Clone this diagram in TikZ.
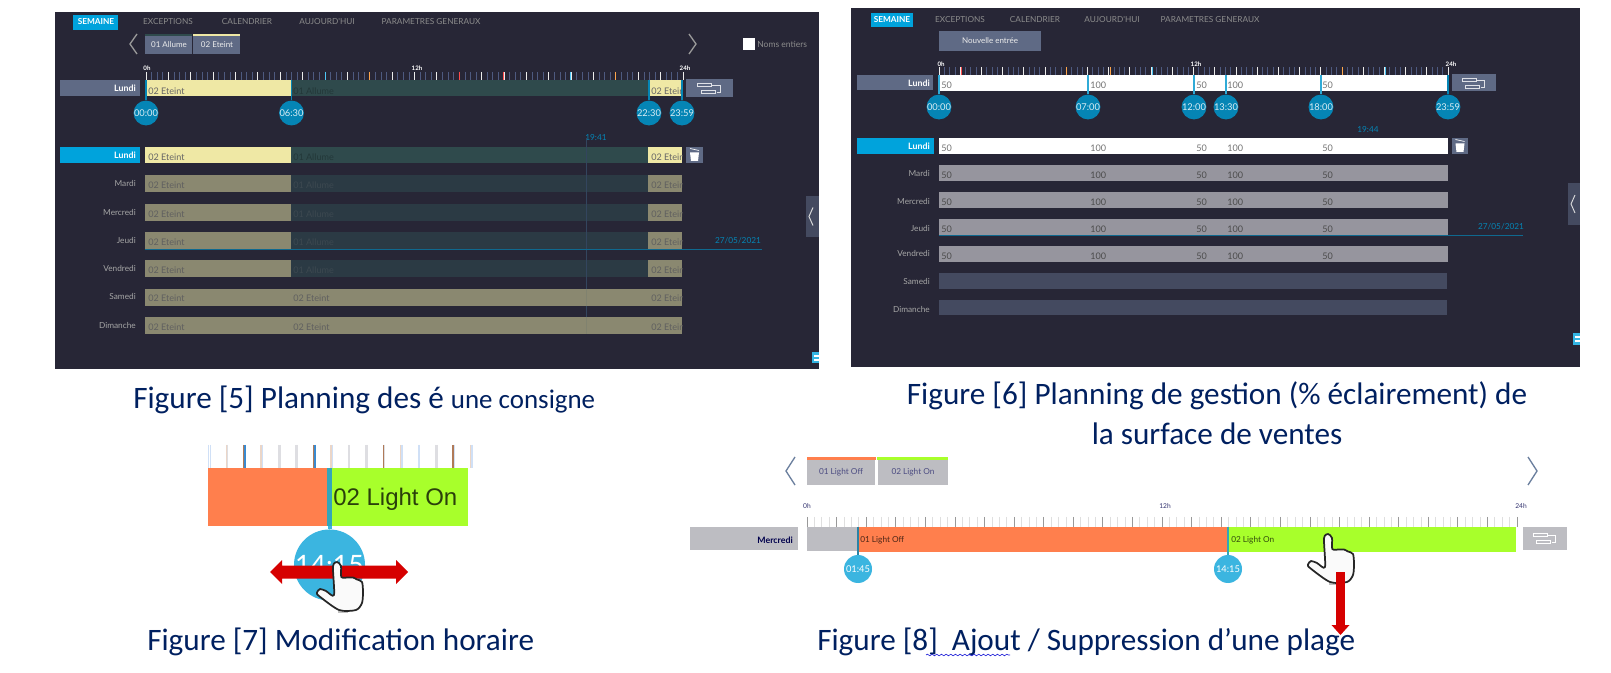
\documentclass[tikz,border=0pt]{standalone}
\usepackage{fontspec}
\setmainfont{Carlito}
\newfontfamily\uifont{Lato}
\newfontfamily\arialfont{Liberation Sans}
\usetikzlibrary{decorations.pathmorphing}
\definecolor{panelbg}{HTML}{272636}
\definecolor{cyanbtn}{HTML}{00A3DC}
\definecolor{slatebtn}{HTML}{5F6A85}
\definecolor{yellowon}{HTML}{EFE8A5}
\definecolor{greenon}{HTML}{2F4A4C}
\definecolor{yellowdim}{HTML}{8A8870}
\definecolor{greendim}{HTML}{2B3A44}
\definecolor{pinblue}{HTML}{0585B5}
\definecolor{pinlight}{HTML}{3BB5E0}
\definecolor{graydim}{HTML}{96959E}
\definecolor{emptyrow}{HTML}{444A60}
\definecolor{navycap}{HTML}{002060}
\definecolor{lightoff}{HTML}{FF7F4D}
\definecolor{lighton}{HTML}{A8FF2B}
\definecolor{tabgray}{HTML}{BDBDC2}
\definecolor{handred}{HTML}{D60000}
\definecolor{teal2}{HTML}{34A6B8}
\definecolor{chev}{HTML}{6B7F9E}
\definecolor{minortick}{HTML}{4E5A80}
\definecolor{tLB}{HTML}{D0E0F6}
\definecolor{tTan}{HTML}{EBD6C8}
\definecolor{tBr}{HTML}{B07A58}
\definecolor{tBl}{HTML}{3A8AD0}
\definecolor{tGr}{HTML}{DEDEE2}
\definecolor{cursorline}{HTML}{33455E}
\definecolor{cursorfaint}{HTML}{80826F}
\newcommand{\uisize}[1]{\uifont\fontsize{#1}{#1}\selectfont}
\tikzset{
  x=0.75pt,y=-0.75pt,
  navtext/.style={font=\uisize{6.2},text=gray!90!white,inner sep=0pt},
  navon/.style={font=\uisize{6.2}\bfseries,text=white,inner sep=0pt},
  daytext/.style={font=\uisize{6.2},text=#1,inner sep=0pt,anchor=east},
  daytext/.default={gray!70!white},
  segtext/.style={font=\uisize{6.8},text=#1,inner sep=0pt,anchor=west},
  pinlabel/.style={circle,fill=pinblue,minimum size=16.5pt,inner sep=0pt,text=white!85!pinblue,font=\uisize{7}},
  caption/.style={font=\fontsize{23.4pt}{26pt}\selectfont,text=navycap,inner sep=0pt,anchor=west},
  ticklabel/.style={font=\uisize{4.6}\bfseries,text=white,inner sep=0pt},
  bluetext/.style={font=\uisize{6.2},text=pinblue,inner sep=0pt},
}
% ruler of 96 quarter hours
\newcommand{\ruler}[6]{%
  \foreach \i in {0,...,96}{%
    \pgfmathtruncatemacro\m{mod(\i,4)}%
    \pgfmathsetmacro\xx{#1+(#2-#1)/96*\i}%
    \ifnum\m=0 \draw[#5,line width=0.6pt] (\xx,#3) -- (\xx,#4);
    \else \draw[#6,line width=0.5pt] (\xx,#3) -- (\xx,#4);\fi
  }}
\newcommand{\groupicon}[2]{% centre x,y
  \begin{scope}[shift={(#1,#2)},white!80!slatebtn,line width=0.5pt]
    \draw (-12,-5) rectangle (2,-1.5);
    \draw (-8.5,2) rectangle (5.5,5.5);
    \draw (2,-3) -- (10.5,-3) -- (10.5,4) -- (7,4);
  \end{scope}}
\newcommand{\trashicon}[2]{%
  \begin{scope}[shift={(#1,#2)}]
    \fill[white] (-4.5,-2.5) -- (4.5,-2.5) -- (3.5,6) -- (-3.5,6) -- cycle;
    \draw[white,line width=0.5pt] (-4.5,-6.5) -- (4.5,-4.5);
  \end{scope}}
\newcommand{\sidehandle}[4]{%
  \fill[emptyrow] (#1,#3) rectangle (#2,#4);
  \draw[white!75!gray,line width=0.7pt] ({#1+7},{(#3+#4)/2-9}) -- ({#1+3},{(#3+#4)/2}) -- ({#1+7},{(#3+#4)/2+9});}
\newcommand{\handcursor}[2]{%
  \fill[shift={(#1,#2)},gray!50!white] (1,48.5) rectangle (11,51);
  \filldraw[shift={(#1,#2)},fill=white!96!gray,draw=black!85,line width=1.3pt,line join=round]
   plot[smooth cycle,tension=0.45] coordinates {(0,0) (4,4) (4.3,15) (11,15.5) (16,15.5) (20,17.5) (25,20) (26,30) (25,41) (19,48) (2,48) (-18,34) (-20,30.5) (-17,27) (-11,29) (-3,33) (-4,4.5)};}
\begin{document}
\begin{tikzpicture}
\useasboundingbox (0,0) rectangle (1611,673);
\fill[white] (0,0) rectangle (1611,673);

%% ---------- Figure 5 panel ----------
\fill[panelbg] (55,12) rectangle (819,369);
\fill[cyanbtn] (73,15) rectangle (118,30);
\node[navon] (a1) at (96,22) {SEMAINE};
\node[navtext] (a2) at (168,22) {EXCEPTIONS};
\node[navtext] (a3) at (247,22) {CALENDRIER};
\node[navtext] (a4) at (327,22) {AUJOURD'HUI};
\node[navtext] (a5) at (431,22) {PARAMETRES GENERAUX};
\draw[gray!80!white,line width=1pt] (137,34) -- (130,44) -- (137,54);
\draw[gray!80!white,line width=1pt] (689,34) -- (696,44) -- (689,54);
\fill[slatebtn] (145,34) rectangle (192,54);
\fill[greenon] (145,34) rectangle (192,36);
\fill[slatebtn] (193,34) rectangle (240,54);
\fill[yellowon] (193,34) rectangle (240,36);
\node[font=\uisize{6},text=white!85!gray,inner sep=0pt] (a6) at (169,45) {01 Allume};
\node[font=\uisize{6},text=white!85!gray,inner sep=0pt] (a7) at (217,45) {02 Eteint};
\fill[white] (743,38) rectangle (755,50);
\node[font=\uisize{6.4},text=gray!90!white,inner sep=0pt,anchor=west] (a8) at (757,44) {Noms entiers};
\node[ticklabel] (a9) at (147,68) {0h};
\node[ticklabel] (a10) at (417,68) {12h};
\node[ticklabel] (a11) at (685,68) {24h};
\ruler{146}{683}{72}{80}{white!85!gray}{minortick}
\foreach \xx/\cc in {459/red!70!white,503/red!70!white,325/cyan!70!white,570/cyan!70!white,369/orange!70!white,615/orange!70!white}{\draw[\cc,line width=0.6pt] (\xx,72) -- (\xx,80);}
\fill[slatebtn] (60,80) rectangle (140,96);
\node[daytext=white,font=\uisize{6.6}\bfseries] (a12) at (136,88) {Lundi};
\fill[yellowon] (145,80) rectangle (291,96);
\fill[greenon] (291,80) rectangle (648,96);
\fill[yellowon] (648,80) rectangle (682,96);
\node[segtext=gray!80!black] (a13) at (148,91) {02 Eteint};
\node[segtext=greenon!75!black] (a14) at (293,91) {01 Allume};
\begin{scope}\clip (648,80) rectangle (682,96);
\node[segtext=gray!80!black] (a15) at (651,91) {02 Eteint};\end{scope}
\node[pinlabel] (t1) at (146,113) {00:00};
\node[pinlabel] (t2) at (291.5,113) {06:30};
\node[pinlabel] (t3) at (649,113) {22:30};
\node[pinlabel] (t4) at (682,113) {23:59};
\foreach \n/\xx in {t1/146,t2/291.5,t3/649,t4/682}{\draw[pinblue,line width=1.3pt] (\xx,80) -- (\n);}
\fill[slatebtn] (686,79) rectangle (733,97);
\groupicon{709.5}{88}
% day rows
\fill[cyanbtn] (60,147) rectangle (140,163);
\node[daytext=white,font=\uisize{6.6}\bfseries] (a16) at (136,155) {Lundi};
\fill[yellowon] (145,147) rectangle (291,163);
\fill[greenon] (291,147) rectangle (648,163);
\fill[yellowon] (648,147) rectangle (682,163);
\node[segtext=gray!80!black] (a17) at (148,157) {02 Eteint};
\node[segtext=greenon!75!black] (a18) at (293,157) {01 Allume};
\begin{scope}\clip (648,147) rectangle (682,163);
\node[segtext=gray!80!black] (a19) at (651,157) {02 Eteint};\end{scope}
\fill[slatebtn] (686,147) rectangle (703,163);
\trashicon{694.5}{155}
\foreach \ya/\yb/\yl/\dd in {175/192/183/Mardi,204/221/212/Mercredi,232/249/240/Jeudi,260/277/268/Vendredi}{
  \fill[yellowdim] (145,\ya) rectangle (291,\yb);
  \fill[greendim] (291,\ya) rectangle (648,\yb);
  \fill[yellowdim] (648,\ya) rectangle (682,\yb);
  \node[daytext] at (136,\yl) {\dd};
  \node[segtext=gray!75!black] at (148,\yl+2.5) {02 Eteint};
  \node[segtext=greendim!80!gray] at (293,\yl+2.5) {01 Allume};
  \begin{scope}\clip (648,\ya) rectangle (682,\yb);
  \node[segtext=gray!75!black] at (651,\yl+2.5) {02 Eteint};\end{scope}
}
\foreach \ya/\yb/\yl/\dd in {289/306/296/Samedi,317/334/325/Dimanche}{
  \fill[yellowdim] (145,\ya) rectangle (682,\yb);
  \node[daytext] at (136,\yl) {\dd};
  \node[segtext=gray!75!black] at (148,\yl+2.5) {02 Eteint};
  \node[segtext=gray!75!black] at (293,\yl+2.5) {02 Eteint};
  \begin{scope}\clip (648,\ya) rectangle (682,\yb);
  \node[segtext=gray!75!black] at (651,\yl+2.5) {02 Eteint};\end{scope}
}
\node[bluetext] (a20) at (596,138) {19:41};
\coordinate (v1) at (586,138);
\coordinate (v2) at (586,334);
\draw[cursorline,line width=0.5pt] (v1) -- (v2);
\draw[cursorfaint,line width=0.5pt] (586,289) -- (586,306);
\draw[cursorfaint,line width=0.5pt] (586,317) -- (586,334);
\coordinate (h1) at (145,249);
\coordinate (h2) at (762,249);
\draw[pinblue!70!panelbg,line width=0.7pt] (h1) -- (h2);
\node[bluetext] (a21) at (738,241) {27/05/2021};
\sidehandle{806}{819}{196}{237}
\fill[cyanbtn!80!white] (812,352) rectangle (819,363);
\fill[white] (814,355) rectangle (819,357);\fill[white] (814,359) rectangle (819,361);

%% ---------- Figure 6 panel ----------
\fill[panelbg] (851,8) rectangle (1580,367);
\fill[cyanbtn] (871,13) rectangle (913,27);
\node[navon] (b1) at (892,20) {SEMAINE};
\node[navtext] (b2) at (960,20) {EXCEPTIONS};
\node[navtext] (b3) at (1035,20) {CALENDRIER};
\node[navtext] (b4) at (1112,20) {AUJOURD'HUI};
\node[navtext] (b5) at (1210,20) {PARAMETRES GENERAUX};
\fill[slatebtn] (939,31) rectangle (1041,51);
\node[font=\uisize{6},text=white!85!gray,inner sep=0pt] (b6) at (990,41) {Nouvelle entrée};
\node[ticklabel] (b7) at (941,64) {0h};
\node[ticklabel] (b8) at (1196,64) {12h};
\node[ticklabel] (b9) at (1451,64) {24h};
\ruler{939}{1448}{67}{75}{white!85!gray}{minortick}
\foreach \xx/\cc in {961/red!70!white,1066/orange!70!white,1110/orange!70!white,1152/cyan!70!white,1342/orange!70!white,1385/cyan!70!white}{\draw[\cc,line width=0.6pt] (\xx,67) -- (\xx,75);}
\fill[slatebtn] (857,75) rectangle (933,90);
\node[daytext=white,font=\uisize{6.6}\bfseries] (b10) at (930,83) {Lundi};
\fill[white] (939,75) rectangle (1448,91);
\foreach \xx/\vv in {941/50,1090/100,1196/50,1227/100,1322/50}{
  \node[segtext=gray!90!black] at (\xx,85) {\vv};}
\node[pinlabel] (u1) at (939,107) {00:00};
\node[pinlabel] (u2) at (1088,107) {07:00};
\node[pinlabel] (u3) at (1194,107) {12:00};
\node[pinlabel] (u4) at (1226,107) {13:30};
\node[pinlabel] (u5) at (1321,107) {18:00};
\node[pinlabel] (u6) at (1448,107) {23:59};
\foreach \n/\xx in {u1/939,u2/1088,u3/1194,u4/1226,u5/1321}{\draw[pinlight!80!pinblue,line width=1.3pt] (\xx,75) -- (\n);}
\draw[pinblue,line width=1.3pt] (1448,75) -- (u6);
\fill[slatebtn] (1452,74) rectangle (1496,91);
\groupicon{1474}{83}
\fill[cyanbtn] (857,138) rectangle (934,154);
\node[daytext=white,font=\uisize{6.6}\bfseries] (b11) at (930,146) {Lundi};
\fill[white] (939,138) rectangle (1448,154);
\foreach \xx/\vv in {941/50,1090/100,1196/50,1227/100,1322/50}{
  \node[segtext=gray!90!black] at (\xx,148) {\vv};}
\fill[slatebtn] (1452,138) rectangle (1468,154);
\trashicon{1460}{146}
\foreach \ya/\yb/\yl/\dd in {165/181/173/Mardi,192/208/201/Mercredi,219/235/228/Jeudi,246/262/253/Vendredi}{
  \fill[graydim] (939,\ya) rectangle (1448,\yb);
  \node[daytext] at (930,\yl) {\dd};
  \foreach \xx/\vv in {941/50,1090/100,1196/50,1227/100,1322/50}{
    \node[segtext=gray!60!black] at (\xx,\ya+10) {\vv};}
}
\foreach \ya/\yb/\yl/\dd in {273/289/281/Samedi,300/315/309/Dimanche}{
  \fill[emptyrow] (939,\ya) rectangle (1447,\yb);
  \node[daytext] at (930,\yl) {\dd};
}
\node[bluetext] (b12) at (1368,130) {19:44};
\coordinate (h3) at (939,235);
\coordinate (h4) at (1523,235);
\draw[pinblue!70!panelbg,line width=0.7pt] (h3) -- (h4);
\node[bluetext] (b13) at (1501,227) {27/05/2021};
\sidehandle{1568}{1580}{183}{225}
\fill[cyanbtn!80!white] (1573,333) rectangle (1580,345);
\fill[white] (1575,336) rectangle (1580,338);\fill[white] (1575,340) rectangle (1580,342);

%% ---------- captions ----------
\node[caption] (c5) at (133,400) {Figure [5] Planning des é {\fontsize{20.2pt}{22pt}\selectfont une consigne}};
\node[caption,anchor=center] (c6a) at (1217,396) {Figure [6] Planning de gestion (\% éclairement) de};
\node[caption,anchor=center] (c6b) at (1217,434) {la surface de ventes};
\node[caption] (c7) at (147,642) {Figure [7] Modification horaire};
\node[caption] (c8) at (817,642) {Figure [8]\ \ Ajout / Suppression d’une plage};
\coordinate (w1) at (926,655);
\coordinate (w2) at (1010,655);
\draw[blue!70!gray,line width=0.5pt,decorate,decoration={snake,amplitude=0.6pt,segment length=3.5pt}] (w1) -- (w2);

%% ---------- Figure 7 ----------
\foreach \i/\ca/\cb in {0/tLB/tLB,1/tTan/tGr,2/tBr/tBl,3/tTan/tLB,4/tGr/tGr,5/tGr/tGr,6/tBr/tBl,7/tTan/tLB,8/tGr/tGr,9/tGr/tGr,10/tBr/tGr,11/tTan/tLB,12/tLB/tLB,13/tGr/tGr,14/tBr/tLB,15/tTan/tLB}{
  \pgfmathsetmacro\xx{209.5+17.45*\i}
  \draw[\ca,line width=1pt] (\xx-0.7,445) -- (\xx-0.7,468);
  \draw[\cb,line width=1pt] (\xx+0.7,445) -- (\xx+0.7,468);
}
\fill[lightoff] (208,468) rectangle (328,526);
\fill[lighton] (330,468) rectangle (468,526);
\fill[teal2] (327,468) rectangle (332,526);
\node[font=\arialfont\fontsize{18pt}{18pt}\selectfont,text=black!75!lighton,inner sep=0pt,anchor=west] (d1) at (333,499) {02 Light On};
\node[circle,fill=pinlight,minimum size=48pt,inner sep=0pt,text=white,font=\uifont\fontsize{20pt}{20pt}\selectfont] (d2) at (329.5,565) {14:15};
\coordinate (d3) at (329.5,526);
\draw[pinlight,line width=3pt] (d3) -- (d2);
\fill[handred] (270,572) -- (282,560) -- (282,565.5) -- (396,565.5) -- (396,560) -- (408,572) -- (396,584) -- (396,578.5) -- (282,578.5) -- (282,584) -- cycle;
\handcursor{337}{562}

%% ---------- Figure 8 ----------
\draw[chev,line width=1pt] (795,457) -- (786,471) -- (795,485);
\draw[chev,line width=1pt] (1528,457) -- (1537,471) -- (1528,485);
\fill[tabgray] (807,460) rectangle (875,485);
\fill[lightoff] (807,457) rectangle (876,460);
\fill[tabgray] (878,460) rectangle (948,485);
\fill[lighton] (877,457) rectangle (948,460);
\node[font=\uisize{6.2},text=blue!30!black!70!white,inner sep=0pt] (e1) at (841,472) {01 Light Off};
\node[font=\uisize{6.2},text=blue!30!black!70!white,inner sep=0pt] (e2) at (913,472) {02 Light On};
\node[font=\uisize{5},text=blue!30!black!80!white,inner sep=0pt] (e3) at (807,506) {0h};
\node[font=\uisize{5},text=blue!30!black!80!white,inner sep=0pt] (e4) at (1165,506) {12h};
\node[font=\uisize{5},text=blue!30!black!80!white,inner sep=0pt] (e5) at (1521,506) {24h};
\ruler{807}{1517}{517}{527}{gray!80!white}{gray!25!white}
\fill[tabgray] (690,527) rectangle (798,550);
\node[daytext=blue!30!black,font=\uisize{6.6}\bfseries] (e6) at (793,540) {Mercredi};
\fill[tabgray] (807,527) rectangle (858,551);
\fill[lightoff] (858,527) rectangle (1228,552);
\fill[lighton] (1228,527) rectangle (1516,552);
\node[font=\uisize{6.2},text=black!70!lightoff,inner sep=0pt,anchor=west] (e7) at (860,540) {01 Light Off};
\node[font=\uisize{6.2},text=black!70!lighton,inner sep=0pt,anchor=west] (e8) at (1231,540) {02 Light On};
\node[circle,fill=pinlight,minimum size=21pt,inner sep=0pt,text=white,font=\uisize{7}] (e9) at (858,569) {01:45};
\node[circle,fill=pinlight,minimum size=21pt,inner sep=0pt,text=white,font=\uisize{7}] (e10) at (1228,569) {14:15};
\draw[pinblue!70!gray,line width=1.2pt] (858,527) -- (e9);
\draw[teal2,line width=1.2pt] (1228,527) -- (e10);
\fill[tabgray] (1523,527) rectangle (1567,550);
\begin{scope}[shift={(1545,538)},white,line width=0.6pt]
  \draw (-12,-5) rectangle (2,-1.5);\draw (-8.5,2) rectangle (5.5,5.5);\draw (2,-3) -- (10.5,-3) -- (10.5,4) -- (7,4);
\end{scope}
\handcursor{1328}{534}
\fill[handred] (1336,572) rectangle (1345,625);
\fill[handred] (1331.5,625) -- (1349.5,625) -- (1340.5,635) -- cycle;
\end{tikzpicture}
\end{document}
